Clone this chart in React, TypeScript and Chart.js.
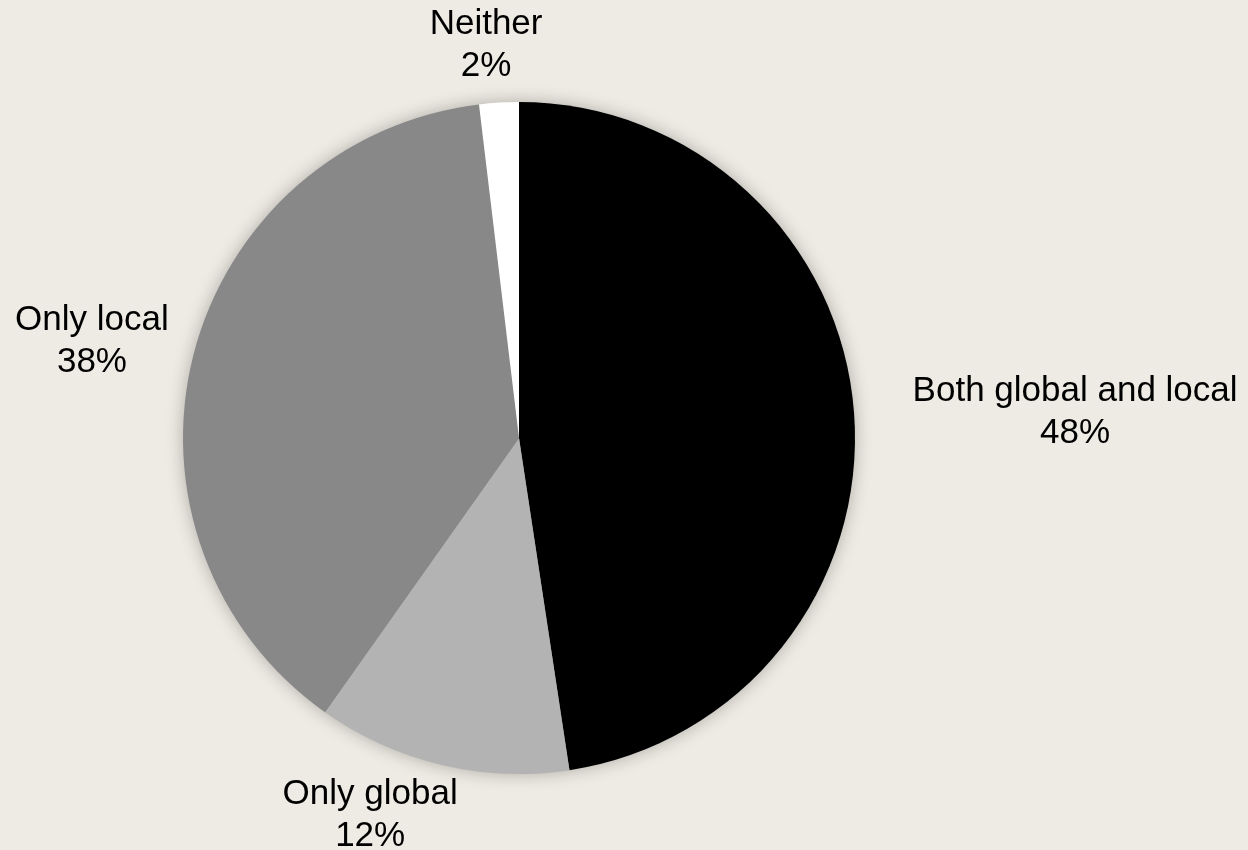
import React, { useEffect, useRef } from "react";
import { Chart, registerables } from "chart.js";

Chart.register(...registerables);

const categories = ["Both global and local", "Only global", "Only local", "Neither"];
const shares = [47.6, 12.2, 38.3, 1.9];
const percentLabels = ["48%", "12%", "38%", "2%"];

const sliceColors = ["#000000", "#b3b3b3", "#888888", "#ffffff"];
const labelOffsets: [number, number][] = [
  [1.655, -0.077],
  [-0.443, 1.122],
  [-1.271, -0.289],
  [-0.098, -1.17],
];

const BG = "#eeebe4";
const FONT = "35px 'Liberation Sans', Arial, sans-serif";

const shadowPlugin = {
  id: "pieShadow",
  beforeDatasetsDraw(chart: any) {
    const meta = chart.getDatasetMeta(0);
    const arc = meta.data[0];
    if (!arc) return;
    const { x, y, outerRadius } = arc.getProps(["x", "y", "outerRadius"], true);
    const ctx = chart.ctx;
    ctx.save();
    ctx.shadowColor = "rgba(0,0,0,0.3)";
    ctx.shadowBlur = 18;
    ctx.shadowOffsetX = 0;
    ctx.shadowOffsetY = 0;
    ctx.beginPath();
    ctx.arc(x, y, outerRadius - 1, 0, Math.PI * 2);
    ctx.fillStyle = "#888888";
    ctx.fill();
    ctx.restore();
  },
};

const labelPlugin = {
  id: "outerLabels",
  afterDraw(chart: any) {
    const meta = chart.getDatasetMeta(0);
    const ctx = chart.ctx;
    ctx.save();
    ctx.font = FONT;
    ctx.fillStyle = "#000000";
    ctx.textAlign = "center";
    ctx.textBaseline = "middle";
    meta.data.forEach((arc: any, i: number) => {
      const { x, y, outerRadius } = arc.getProps(["x", "y", "outerRadius"], true);
      const [ox, oy] = labelOffsets[i];
      const cx = x + ox * outerRadius;
      const cy = y + oy * outerRadius;
      ctx.fillText(categories[i], cx, cy - 21);
      ctx.fillText(percentLabels[i], cx, cy + 21);
    });
    ctx.restore();
  },
};

export default function App() {
  const ref = useRef<HTMLCanvasElement | null>(null);
  useEffect(() => {
    if (!ref.current) return;
    const chart = new Chart(ref.current, {
      type: "pie",
      data: {
        labels: categories,
        datasets: [
          {
            data: shares,
            backgroundColor: sliceColors,
            borderWidth: 0,
          },
        ],
      },
      options: {
        responsive: false,
        animation: false,
        layout: { padding: { top: 102, bottom: 76, left: 183, right: 393 } },
        plugins: {
          legend: { display: false },
          tooltip: { enabled: false },
        },
      },
      plugins: [shadowPlugin, labelPlugin],
    });
    return () => chart.destroy();
  }, []);
  return (
    <div
      style={{
        position: "fixed",
        left: 0,
        top: 0,
        width: 1248,
        height: 850,
        background: BG,
      }}
    >
      <canvas ref={ref} width={1248} height={850} style={{ display: "block" }} />
    </div>
  );
}
